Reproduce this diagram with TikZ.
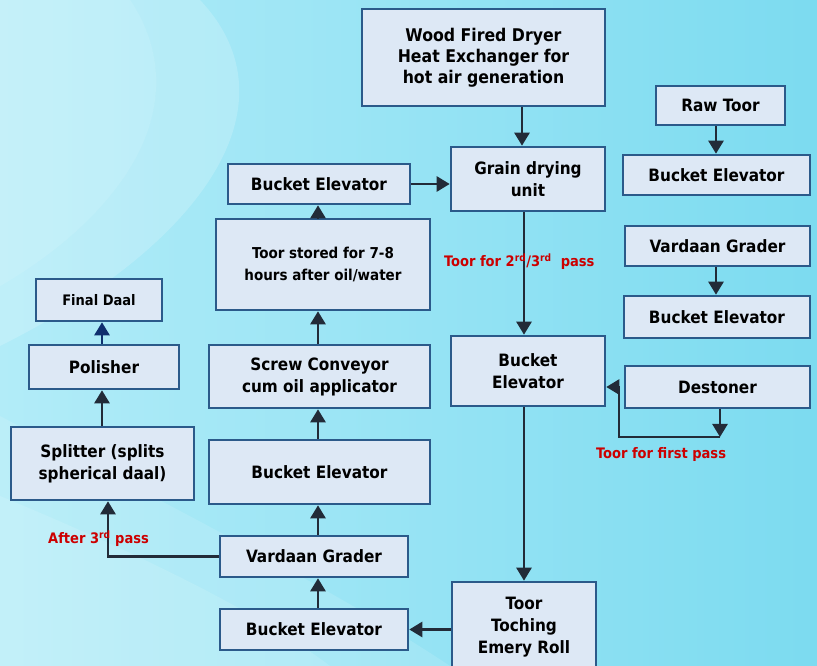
\documentclass[tikz,border=0pt]{standalone}
\usepackage{fontspec}
\setmainfont{DejaVu Sans Condensed}
\usetikzlibrary{arrows.meta,calc}
\definecolor{boxfill}{HTML}{DDE8F5}
\definecolor{boxline}{HTML}{2B5A8A}
\definecolor{arrcol}{HTML}{222B38}
\definecolor{navy}{HTML}{0F2F6E}
\definecolor{lblred}{HTML}{CC0000}
\definecolor{bgA}{HTML}{B2ECF8}
\definecolor{bgB}{HTML}{7CDBF0}
\tikzset{
  box/.style={draw=boxline, fill=boxfill, line width=2.6pt, align=center,
    font=\bfseries\fontsize{17}{22}\selectfont, inner sep=2pt},
  arr/.style={draw=arrcol, line width=2.6pt, -{Triangle[width=15pt,length=13pt]}},
  lbl/.style={text=lblred, font=\bfseries\fontsize{14.5}{16}\selectfont, anchor=west, inner sep=0pt},
}
\begin{document}
\begin{tikzpicture}[x=1pt,y=1pt]
% background
\shade[left color=bgA, right color=bgB] (0,0) rectangle (817,666);
\fill[white,opacity=0.25] (130,666) .. controls (200,560) and (120,450) .. (0,380) -- (0,666) -- cycle;
\fill[white,opacity=0.18] (200,666) .. controls (300,560) and (200,420) .. (0,320) -- (0,380) .. controls (120,450) and (200,560) .. (130,666) -- cycle;
\fill[white,opacity=0.22] (0,0) -- (0,170) .. controls (120,120) and (250,60) .. (330,0) -- cycle;
\fill[white,opacity=0.12] (0,170) .. controls (120,120) and (250,60) .. (330,0) -- (450,0) .. controls (330,80) and (150,170) .. (0,250) -- cycle;
\useasboundingbox (0,0) rectangle (817,666);

% nodes (y = 666 - pixel y)
\node[box, minimum width=243pt, minimum height=97pt, font=\bfseries\fontsize{17.5}{21}\selectfont] (wood) at (483.5,608.5) {Wood Fired Dryer\\Heat Exchanger for\\hot air generation};
\node[box, minimum width=129pt, minimum height=39pt] (raw) at (720.5,560.5) {Raw Toor};
\node[box, minimum width=154pt, minimum height=64pt] (grain) at (528,487) {Grain drying\\unit};
\node[box, minimum width=187pt, minimum height=40pt] (ber1) at (716.5,491) {Bucket Elevator};
\node[box, minimum width=182pt, minimum height=40pt] (bel1) at (319,482) {Bucket Elevator};
\node[box, minimum width=185pt, minimum height=40pt] (vgr) at (717.5,420) {Vardaan Grader};
\node[box, minimum width=214pt, minimum height=91pt, font=\bfseries\fontsize{15}{22}\selectfont] (stored) at (323,401.5) {Toor stored for 7-8\\hours after oil/water};
\node[box, minimum width=126pt, minimum height=42pt, font=\bfseries\fontsize{14.5}{16}\selectfont] (final) at (99,366) {Final Daal};
\node[box, minimum width=186pt, minimum height=42pt] (ber2) at (717,349) {Bucket Elevator};
\node[box, minimum width=154pt, minimum height=70pt] (bem) at (528,295) {Bucket\\Elevator};
\node[box, minimum width=150pt, minimum height=44pt] (pol) at (104,299) {Polisher};
\node[box, minimum width=221pt, minimum height=63pt] (screw) at (319.5,289.5) {Screw Conveyor\\cum oil applicator};
\node[box, minimum width=185pt, minimum height=42pt] (dest) at (717.5,279) {Destoner};
\node[box, minimum width=183pt, minimum height=73pt] (split) at (102.5,202.5) {Splitter (splits\\spherical daal)};
\node[box, minimum width=221pt, minimum height=64pt] (bel2) at (319.5,194) {Bucket Elevator};
\node[box, minimum width=188pt, minimum height=41pt] (vgl) at (314,109.5) {Vardaan Grader};
\node[box, minimum width=144pt, minimum height=90pt] (toch) at (524,39) {Toor\\Toching\\Emery Roll};
\node[box, minimum width=188pt, minimum height=41pt] (bel3) at (314,36.5) {Bucket Elevator};

% helper coordinates
\coordinate (xa) at (522,0);
\coordinate (xb) at (524,0);
\coordinate (xc) at (318,0);
\coordinate (xd) at (102,0);
\coordinate (xe) at (108,0);
\coordinate (xr) at (716,0);
\coordinate (xt) at (619,0);
\coordinate (yb) at (0,279);
\coordinate (fp) at (720,229);

% connectors
\draw[arr] (wood.south -| xa) -- (grain.north -| xa);
\draw[arr] (raw.south -| xr) -- (ber1.north -| xr);
\draw[arr] (vgr.south -| xr) -- (ber2.north -| xr);
\draw[arr] (grain.south -| xb) -- (bem.north -| xb);
\draw[arr] (bem.south -| xb) -- (toch.north -| xb);
\draw[arr] (toch.west |- bel3.east) -- (bel3.east);
\draw[arr] (bel3.north -| xc) -- (vgl.south -| xc);
\draw[arr] (vgl.north -| xc) -- (bel2.south -| xc);
\draw[arr] (bel2.north -| xc) -- (screw.south -| xc);
\draw[arr] (screw.north -| xc) -- (stored.south -| xc);
\draw[arr] (stored.north -| xc) -- (bel1.south -| xc);
\draw[arr] (bel1.east) -- (bel1.east -| grain.west);
\draw[arr] (dest.south -| fp) -- (fp);
\draw[arr] (fp) -- (xt |- fp) -- (xt |- yb) -- (bem.east |- yb);
\draw[arr] (vgl.west) -| (split.south -| xe);
\draw[arr] (split.north -| xd) -- (pol.south -| xd);
\draw[draw=navy, line width=2.6pt, -{Triangle[width=15pt,length=13pt]}] (pol.north -| xd) -- (final.south -| xd);

% labels
\node[lbl] (l1) at (444,404) {Toor for 2\textsuperscript{rd}/3\textsuperscript{rd}\ \ pass};
\node[lbl] (l2) at (596,211) {Toor for first pass};
\node[lbl] (l3) at (48,127) {After 3\textsuperscript{rd} pass};
\end{tikzpicture}
\end{document}
